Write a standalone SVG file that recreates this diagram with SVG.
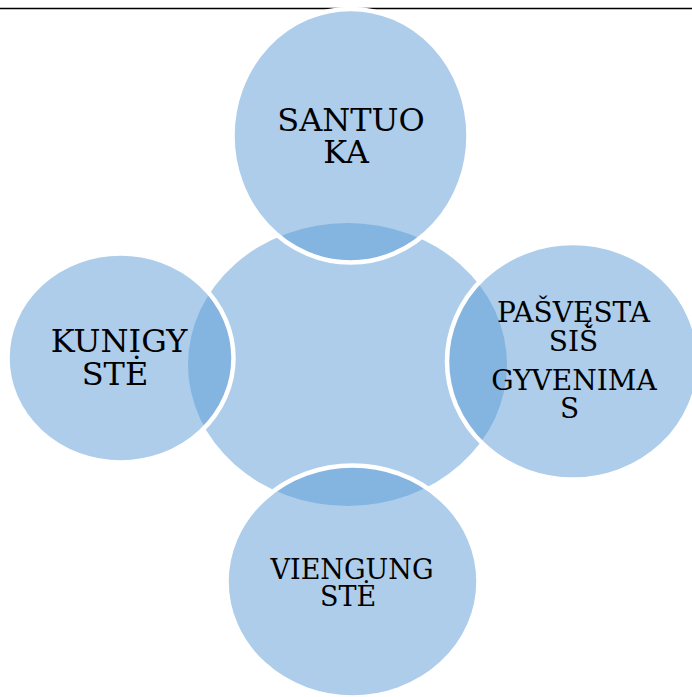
<svg xmlns="http://www.w3.org/2000/svg" width="692" height="697" viewBox="0 0 692 697">
<style>
.center{fill:#5b9bd5;fill-opacity:0.5;stroke:none}
.outer{fill:#5b9bd5;fill-opacity:0.5;stroke:#ffffff;stroke-width:4.5}
.lbl{font-family:"DejaVu Serif","Liberation Serif",serif;fill:#000000;text-anchor:middle}
.big{font-size:32px}
.mid{font-size:28px}
.small{font-size:27px}
</style>
<rect x="0" y="0" width="692" height="697" fill="#ffffff"/>
<line x1="0" y1="8.5" x2="692" y2="8.5" stroke="#000000" stroke-width="1.3"/>
<g id="center-node">
<ellipse class="center" cx="347.5" cy="364.5" rx="159.5" ry="141.5"/>
</g>
<g id="node-santuoka">
<ellipse class="outer" cx="350.5" cy="135.7" rx="118" ry="126.8"/>
<text class="lbl big" x="351" y="130.5">SANTUO</text>
<text class="lbl big" x="346" y="163">KA</text>
</g>
<g id="node-kunigyste">
<ellipse class="outer" cx="120.5" cy="358" rx="113" ry="104.5"/>
<text class="lbl big" x="119" y="352">KUNIGY</text>
<text class="lbl big" x="115" y="385">STĖ</text>
</g>
<g id="node-pasvestasis">
<ellipse class="outer" cx="573" cy="361.3" rx="126" ry="118.3"/>
<text class="lbl mid" x="573.5" y="322">PAŠVĘSTA</text>
<text class="lbl mid" x="573.5" y="351">SIŠ</text>
<text class="lbl mid" x="574" y="390">GYVENIMA</text>
<text class="lbl mid" x="569.5" y="418">S</text>
</g>
<g id="node-viengunste">
<ellipse class="outer" cx="352.5" cy="581.5" rx="126" ry="116"/>
<text class="lbl small" x="352" y="579">VIENGUNG</text>
<text class="lbl small" x="348" y="606">STĖ</text>
</g>
</svg>
